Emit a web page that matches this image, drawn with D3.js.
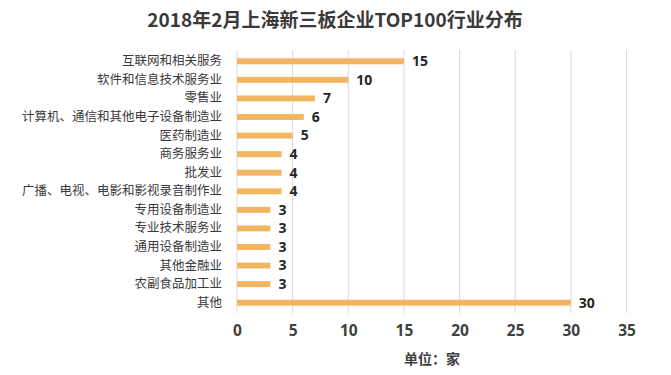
<!DOCTYPE html>
<html>
<head>
<meta charset="utf-8">
<script src="https://cdn.jsdelivr.net/npm/d3@7"></script>
<style>
  body { margin: 0; background: #fff; }
  text { font-family: "Noto Sans CJK SC", "Noto Sans", sans-serif; }
</style>
</head>
<body>
<div id="container"></div>
<script>
let w = 671;
let h = 375;

// data
let categories = ["互联网和相关服务", "软件和信息技术服务业", "零售业", "计算机、通信和其他电子设备制造业",
  "医药制造业", "商务服务业", "批发业", "广播、电视、电影和影视录音制作业", "专用设备制造业",
  "专业技术服务业", "通用设备制造业", "其他金融业", "农副食品加工业", "其他"];
let counts = [15, 10, 7, 6, 5, 4, 4, 4, 3, 3, 3, 3, 3, 30];
let xTicks = [0, 5, 10, 15, 20, 25, 30, 35];

let viz = d3.select("#container")
  .append("svg")
    .attr("width", w)
    .attr("height", h)
    .style("background-color", "#fff");

let xScale = d3.scaleLinear().domain([0, 35]).range([237, 626.5]);
let yScale = d3.scaleBand().domain(categories).range([52, 312]).paddingInner(0.68).paddingOuter(0.34);

// title
viz.append("text")
  .attr("x", 335)
  .attr("y", 27)
  .attr("text-anchor", "middle")
  .style("font-size", "19px")
  .style("font-weight", "bold")
  .style("fill", "#3a3a3a")
  .text("2018年2月上海新三板企业TOP100行业分布");

// grid
viz.append("g").selectAll("line").data(xTicks).enter()
  .append("line")
    .attr("x1", d => xScale(d))
    .attr("x2", d => xScale(d))
    .attr("y1", 50)
    .attr("y2", 313)
    .style("stroke", "#d9d9d9")
    .style("stroke-width", 1);

// x axis
let xAxis = d3.axisBottom(xScale).tickValues(xTicks).tickSize(0).tickPadding(0);
let xAxisGroup = viz.append("g").attr("transform", "translate(0,318)").call(xAxis);
xAxisGroup.select(".domain").remove();
xAxisGroup.selectAll("text")
  .attr("dy", "1.15em")
  .style("font-size", "15.5px")
  .style("font-weight", "bold")
  .style("fill", "#404040")
  .style("font-family", "\"Open Sans\", \"Noto Sans\", sans-serif");

// y axis
let yAxis = d3.axisLeft(yScale).tickSize(0).tickPadding(15);
let yAxisGroup = viz.append("g").attr("transform", "translate(237,0)").call(yAxis);
yAxisGroup.select(".domain").remove();
yAxisGroup.selectAll("text")
  .style("font-size", "12.5px")
  .style("fill", "#3a3a3a");

// bars
let bars = viz.append("g").selectAll("g").data(categories).enter()
  .append("g");

bars.append("rect")
  .attr("x", xScale(0))
  .attr("y", d => yScale(d))
  .attr("width", (d, i) => xScale(counts[i]) - xScale(0))
  .attr("height", yScale.bandwidth())
  .style("fill", "#f2b662");

bars.append("text")
  .attr("x", (d, i) => xScale(counts[i]) + 8)
  .attr("y", d => yScale(d) + yScale.bandwidth() / 2)
  .attr("dy", "0.35em")
  .style("font-size", "14px")
  .style("font-weight", "bold")
  .style("fill", "#262626")
  .style("font-family", "\"Open Sans\", \"Noto Sans\", sans-serif")
  .text((d, i) => counts[i]);

// unit label
viz.append("text")
  .attr("x", 432)
  .attr("y", 364)
  .attr("text-anchor", "middle")
  .style("font-size", "14px")
  .style("font-weight", "bold")
  .style("fill", "#404040")
  .text("单位：家");
</script>
</body>
</html>
